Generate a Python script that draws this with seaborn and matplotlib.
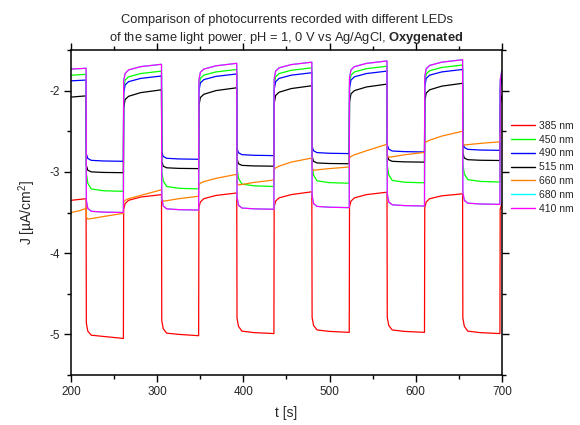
import matplotlib
matplotlib.use("Agg")
import matplotlib.pyplot as plt
from matplotlib.ticker import MultipleLocator
import seaborn as sns
import pandas as pd

# ---- data ----
# light on/off switching times [s]
edges = [217.5, 260.8, 305.0, 348.1, 392.3, 435.4, 479.4, 522.8, 566.6, 610.1, 654.3, 697.6]
# sampled points inside every segment: just after the edge, +2 s, +6 s, +20 s, end
seg_offsets = [0.3, 2.0, 6.0, 20.0]
t_start = [200.0, 209.0, 217.5]
t_stop = [697.9, 699.6, 700.0]

labels = ["385 nm", "450 nm", "490 nm", "515 nm", "660 nm", "680 nm", "410 nm"]
colors = ["#FF0000", "#00FF00", "#0000FF", "#000000", "#FF8000", "#00FFFF", "#FF00FF"]

J_385 = [-3.35, -3.34, -3.33,
         -4.86, -4.96, -5.01, -5.025, -5.05,
         -3.46, -3.39, -3.35, -3.31, -3.28,
         -4.83, -4.93, -4.985, -5.0, -5.016,
         -3.44, -3.37, -3.33, -3.29, -3.26,
         -4.80, -4.90, -4.96, -4.978, -4.99,
         -3.43, -3.36, -3.32, -3.28, -3.245,
         -4.79, -4.89, -4.945, -4.963, -4.975,
         -3.43, -3.36, -3.32, -3.28, -3.25,
         -4.79, -4.89, -4.945, -4.963, -4.975,
         -3.44, -3.37, -3.33, -3.295, -3.27,
         -4.80, -4.90, -4.96, -4.978, -4.99,
         -3.46, -3.40, -3.385]

J_450 = [-1.81, -1.805, -1.80,
         -3.02, -3.14, -3.21, -3.232, -3.24,
         -1.97, -1.87, -1.83, -1.79, -1.76,
         -2.99, -3.11, -3.18, -3.202, -3.21,
         -1.95, -1.85, -1.81, -1.77, -1.74,
         -2.96, -3.08, -3.15, -3.172, -3.18,
         -1.93, -1.83, -1.79, -1.75, -1.72,
         -2.92, -3.04, -3.11, -3.132, -3.14,
         -1.91, -1.81, -1.77, -1.73, -1.70,
         -2.915, -3.035, -3.105, -3.127, -3.135,
         -1.895, -1.795, -1.755, -1.715, -1.685,
         -2.905, -3.025, -3.095, -3.117, -3.125,
         -1.93, -1.83, -1.81]

J_490 = [-1.88, -1.875, -1.87,
         -2.78, -2.835, -2.858, -2.866, -2.87,
         -2.03, -1.93, -1.89, -1.85, -1.82,
         -2.755, -2.81, -2.833, -2.841, -2.845,
         -2.005, -1.905, -1.865, -1.825, -1.795,
         -2.71, -2.765, -2.788, -2.796, -2.80,
         -1.99, -1.89, -1.85, -1.81, -1.78,
         -2.685, -2.74, -2.763, -2.771, -2.775,
         -1.97, -1.87, -1.83, -1.79, -1.76,
         -2.665, -2.72, -2.743, -2.751, -2.755,
         -1.95, -1.85, -1.81, -1.77, -1.74,
         -2.645, -2.70, -2.723, -2.731, -2.735,
         -1.98, -1.87, -1.85]

J_515 = [-2.08, -2.072, -2.065,
         -2.92, -2.98, -3.0, -3.007, -3.01,
         -2.21, -2.11, -2.07, -2.025, -1.99,
         -2.87, -2.93, -2.95, -2.957, -2.96,
         -2.185, -2.085, -2.045, -2.0, -1.965,
         -2.84, -2.90, -2.92, -2.927, -2.93,
         -2.16, -2.06, -2.02, -1.975, -1.94,
         -2.81, -2.87, -2.89, -2.897, -2.90,
         -2.14, -2.04, -2.0, -1.955, -1.92,
         -2.79, -2.85, -2.87, -2.877, -2.88,
         -2.13, -2.03, -1.99, -1.945, -1.91,
         -2.77, -2.83, -2.85, -2.857, -2.86,
         -2.18, -2.08, -2.06]

J_660 = [-3.50, -3.48, -3.45,
         -3.56, -3.58, -3.575, -3.55, -3.51,
         -3.37, -3.35, -3.33, -3.29, -3.22,
         -3.34, -3.36, -3.355, -3.33, -3.30,
         -3.16, -3.14, -3.12, -3.08, -3.03,
         -3.14, -3.16, -3.155, -3.13, -3.10,
         -2.97, -2.95, -2.93, -2.88, -2.83,
         -2.96, -2.98, -2.975, -2.96, -2.94,
         -2.83, -2.81, -2.79, -2.74, -2.66,
         -2.80, -2.82, -2.815, -2.79, -2.76,
         -2.65, -2.63, -2.61, -2.56, -2.50,
         -2.64, -2.67, -2.665, -2.65, -2.63,
         -2.51, -2.49, -2.49]

J_410 = [-1.735, -1.73, -1.725,
         -3.35, -3.45, -3.485, -3.495, -3.50,
         -1.88, -1.79, -1.745, -1.705, -1.676,
         -3.32, -3.42, -3.455, -3.465, -3.47,
         -1.87, -1.775, -1.735, -1.695, -1.664,
         -3.31, -3.41, -3.445, -3.455, -3.46,
         -1.86, -1.76, -1.72, -1.68, -1.65,
         -3.29, -3.39, -3.425, -3.435, -3.44,
         -1.845, -1.745, -1.705, -1.665, -1.635,
         -3.27, -3.37, -3.405, -3.415, -3.42,
         -1.83, -1.73, -1.69, -1.65, -1.62,
         -3.25, -3.35, -3.385, -3.395, -3.40,
         -1.87, -1.77, -1.755]

# 680 nm trace lies underneath the 410 nm trace (hidden in the reference)
J_680 = list(J_410)

series = [J_385, J_450, J_490, J_515, J_660, J_680, J_410]

# ---- time axis for the sampled points ----
t = list(t_start)
for i in range(len(edges) - 1):
    ts, te = edges[i], edges[i + 1]
    t += [ts + o for o in seg_offsets] + [te]
t += t_stop

rows = []
for lab, vals in zip(labels, series):
    for ti, v in zip(t, vals):
        rows.append({"t": ti, "J": v, "LED": lab})
df = pd.DataFrame(rows)

# ---- style ----
sns.set_style("ticks")
plt.rcParams["font.family"] = ["Liberation Sans", "DejaVu Sans"]
plt.rcParams["mathtext.fontset"] = "custom"
plt.rcParams["mathtext.rm"] = "Liberation Sans"
plt.rcParams["mathtext.it"] = "Liberation Sans:italic"
plt.rcParams["mathtext.bf"] = "Liberation Sans:bold"
plt.rcParams["axes.unicode_minus"] = False

fig = plt.figure(figsize=(5.8, 4.25), dpi=100)
ax = fig.add_axes([0.1224, 0.1176, 0.7431, 0.7648])

sns.lineplot(data=df, x="t", y="J", hue="LED", hue_order=labels,
             palette=dict(zip(labels, colors)), estimator=None, sort=False,
             linewidth=0.9, ax=ax, legend=True)

ax.set_xlim(200, 700)
ax.set_ylim(-5.5, -1.5)
ax.xaxis.set_major_locator(MultipleLocator(100))
ax.xaxis.set_minor_locator(MultipleLocator(50))
ax.yaxis.set_major_locator(MultipleLocator(1))
ax.yaxis.set_minor_locator(MultipleLocator(0.5))
ax.tick_params(which="both", direction="out", top=True, right=True,
               labeltop=False, labelright=False, width=1.0, color="black")
ax.tick_params(which="major", length=5, labelsize=8.5, pad=3)
ax.tick_params(which="minor", length=3)
for s in ax.spines.values():
    s.set_visible(True)
    s.set_linewidth(1.1)
    s.set_color("black")

ax.set_xlabel("t [s]", fontsize=10, labelpad=6)
ax.set_ylabel("J [µA/cm$^{2}$]", fontsize=10, labelpad=8)

fig.text(0.494, 0.947, "Comparison of photocurrents recorded with different LEDs",
         ha="center", va="baseline", fontsize=9.3)
fig.text(0.494, 0.903,
         r"of the same light power. pH = 1, 0 V vs Ag/AgCl, $\mathbf{Oxygenated}$",
         ha="center", va="baseline", fontsize=9.3)

leg = ax.legend(loc="upper left", bbox_to_anchor=(0.881, 0.716),
                bbox_transform=fig.transFigure, frameon=False, fontsize=7.5,
                handlelength=2.3, handletextpad=0.4, labelspacing=0.37,
                borderpad=0, borderaxespad=0)
for line in leg.get_lines():
    line.set_linewidth(1.0)

fig.savefig("out.png", dpi=100)
